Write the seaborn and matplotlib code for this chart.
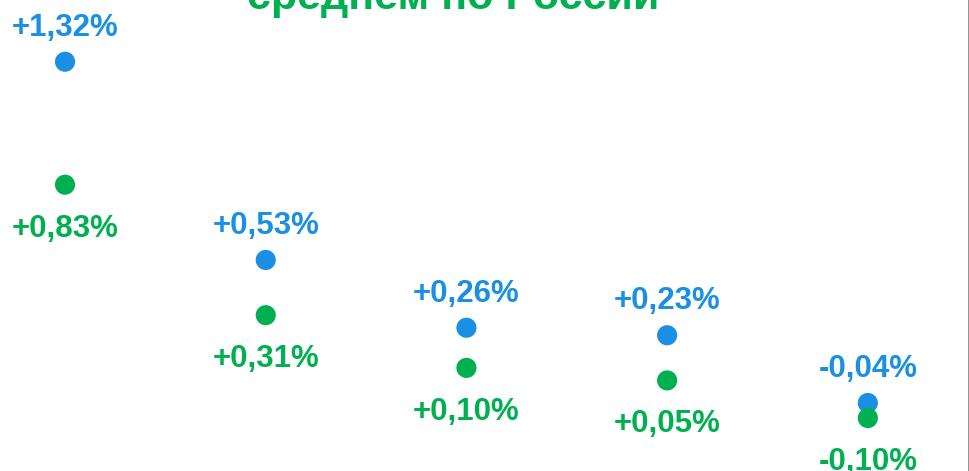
import matplotlib
matplotlib.use("Agg")
import matplotlib.pyplot as plt
import seaborn as sns
import pandas as pd

# Values, percent change
positions = [0, 1, 2, 3, 4]
blue_values = [1.32, 0.53, 0.26, 0.23, -0.04]
green_values = [0.83, 0.31, 0.10, 0.05, -0.10]
blue_labels = ["+1,32%", "+0,53%", "+0,26%", "+0,23%", "-0,04%"]
green_labels = ["+0,83%", "+0,31%", "+0,10%", "+0,05%", "-0,10%"]
title_text = "среднем по России"

BLUE = "#1a8fe3"
GREEN = "#00b050"

sns.set_theme(style="white")
plt.rcParams["font.family"] = ["Liberation Sans", "DejaVu Sans"]

df = pd.DataFrame({
    "pos": positions * 2,
    "value": blue_values + green_values,
    "series": ["blue"] * len(positions) + ["green"] * len(positions),
})

fig = plt.figure(figsize=(9.7, 4.71), dpi=100)
ax = fig.add_axes([0, 0, 1, 1])

sns.scatterplot(data=df, x="pos", y="value", hue="series",
                palette={"blue": BLUE, "green": GREEN},
                s=210, linewidth=0, legend=False, ax=ax, zorder=3)

for x, v, lab in zip(positions, blue_values, blue_labels):
    ax.annotate(lab, (x, v), xytext=(0, 34), textcoords="offset pixels",
                ha="center", va="center", fontsize=22.5, fontweight="bold",
                color=BLUE)
for x, v, lab in zip(positions, green_values, green_labels):
    ax.annotate(lab, (x, v), xytext=(0, -44), textcoords="offset pixels",
                ha="center", va="center", fontsize=22.5, fontweight="bold",
                color=GREEN)

ax.set_xlim(-0.324, 4.509)
ax.set_ylim(-0.311, 1.566)
ax.axis("off")

fig.text(0.467, 1 - 9 / 471, title_text, ha="center", va="baseline",
         fontsize=31, fontweight="bold", color=GREEN)

# thin gray frame edge on the right
fig.add_artist(plt.Line2D([969.5 / 970, 969.5 / 970], [0, 1],
                          transform=fig.transFigure, color="#808080", lw=1.2))

fig.savefig("out.png", dpi=100)
